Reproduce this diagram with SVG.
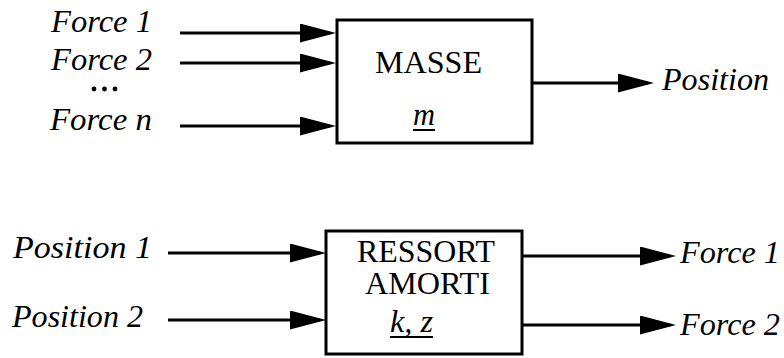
<svg xmlns="http://www.w3.org/2000/svg" width="784" height="358" viewBox="0 0 784 358">
  <style>
    .box { fill: #ffffff; stroke: #000000; stroke-width: 3; }
    .conn { fill: none; stroke: #000000; stroke-width: 3; marker-end: url(#arrow); }
    text { font-family: 'Liberation Serif', 'DejaVu Serif', serif; fill: #000000; }
    .lbl { font-style: italic; font-size: 32px; }
    .name { font-size: 31px; }
    .param { font-style: italic; font-size: 32px; }
    .ul { stroke: #000000; stroke-width: 2; }
  </style>
  <defs>
    <marker id="arrow" markerUnits="userSpaceOnUse" markerWidth="36" markerHeight="19" viewBox="0 0 36 19" refX="30" refY="9.5" orient="auto">
      <path d="M0,0 L36,9.5 L0,19 Z" fill="#000000"/>
    </marker>
  </defs>
  <rect width="784" height="358" fill="#ffffff"/>

  <g id="connectors">
    <line class="conn" x1="180" y1="33" x2="330" y2="33"/>
    <line class="conn" x1="180" y1="63" x2="330" y2="63"/>
    <line class="conn" x1="180" y1="126" x2="330" y2="126"/>
    <line class="conn" x1="532" y1="83" x2="648" y2="83"/>
    <line class="conn" x1="168" y1="253" x2="320" y2="253"/>
    <line class="conn" x1="168" y1="320" x2="320" y2="320"/>
    <line class="conn" x1="522" y1="256" x2="670" y2="256"/>
    <line class="conn" x1="522" y1="325" x2="670" y2="325"/>
  </g>

  <g id="masse">
    <rect class="box" x="337" y="20" width="195" height="123"/>
    <text class="name" font-family="Liberation Serif, DejaVu Serif, serif" x="375" y="73" textLength="107" lengthAdjust="spacingAndGlyphs">MASSE</text>
    <text class="param" font-family="Liberation Serif, DejaVu Serif, serif" x="413" y="125" textLength="22" lengthAdjust="spacingAndGlyphs">m</text>
    <line class="ul" x1="413" y1="130" x2="435" y2="130"/>
  </g>

  <g id="ressort">
    <rect class="box" x="326" y="231" width="196" height="123"/>
    <text class="name" font-family="Liberation Serif, DejaVu Serif, serif" x="357" y="262" textLength="138" lengthAdjust="spacingAndGlyphs">RESSORT</text>
    <text class="name" font-family="Liberation Serif, DejaVu Serif, serif" x="365" y="294" textLength="125" lengthAdjust="spacingAndGlyphs">AMORTI</text>
    <text class="param" font-family="Liberation Serif, DejaVu Serif, serif" x="390" y="332" textLength="43" lengthAdjust="spacingAndGlyphs">k, z</text>
    <line class="ul" x1="390" y1="337" x2="433" y2="337"/>
  </g>

  <g id="inputs-masse">
    <text class="lbl" font-family="Liberation Serif, DejaVu Serif, serif" x="51" y="32" textLength="101" lengthAdjust="spacingAndGlyphs">Force 1</text>
    <text class="lbl" font-family="Liberation Serif, DejaVu Serif, serif" x="51" y="70" textLength="101" lengthAdjust="spacingAndGlyphs">Force 2</text>
    <circle cx="94" cy="89" r="2.4" fill="#000000"/>
    <circle cx="104.5" cy="89" r="2.4" fill="#000000"/>
    <circle cx="115" cy="89" r="2.4" fill="#000000"/>
    <text class="lbl" font-family="Liberation Serif, DejaVu Serif, serif" x="50" y="130" textLength="102" lengthAdjust="spacingAndGlyphs">Force n</text>
  </g>

  <g id="output-masse">
    <text class="lbl" font-family="Liberation Serif, DejaVu Serif, serif" x="662" y="90" textLength="107" lengthAdjust="spacingAndGlyphs">Position</text>
  </g>

  <g id="inputs-ressort">
    <text class="lbl" font-family="Liberation Serif, DejaVu Serif, serif" x="13" y="258" textLength="139" lengthAdjust="spacingAndGlyphs">Position 1</text>
    <text class="lbl" font-family="Liberation Serif, DejaVu Serif, serif" x="12" y="327" textLength="131" lengthAdjust="spacingAndGlyphs">Position 2</text>
  </g>

  <g id="outputs-ressort">
    <text class="lbl" font-family="Liberation Serif, DejaVu Serif, serif" x="680" y="263" textLength="100" lengthAdjust="spacingAndGlyphs">Force 1</text>
    <text class="lbl" font-family="Liberation Serif, DejaVu Serif, serif" x="680" y="335" textLength="100" lengthAdjust="spacingAndGlyphs">Force 2</text>
  </g>
</svg>
